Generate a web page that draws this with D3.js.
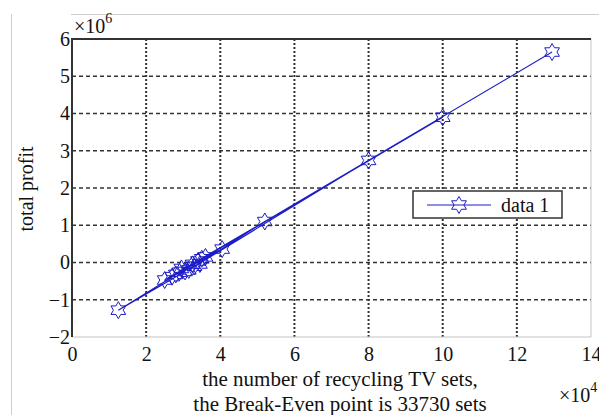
<!DOCTYPE html>
<html><head><meta charset="utf-8">
<script src="https://cdn.jsdelivr.net/npm/d3@7"></script>
<style>
html,body{margin:0;padding:0;background:#fff;}
svg text{font-family:"Liberation Serif","Times New Roman",serif;fill:#111;}
</style></head>
<body><svg id="c" width="599" height="415"></svg>
<script>
// data: number of recycled TV sets vs total profit (plotted in drawing order)
const sets   = [33000, 28000, 30500, 12500, 35000, 27000, 32500, 29500, 34500, 36000, 40500, 25000, 52000, 31500, 80000, 29000, 100000, 34000, 129500];
const profit = [-100000, -320000, -240000, -1280000, 100000, -380000, -50000, -160000, -40000, 150000, 360000, -470000, 1100000, -200000, 2740000, -260000, 3900000, 40000, 5650000];
const xTicks = [0, 20000, 40000, 60000, 80000, 100000, 120000, 140000];
const yTicks = [-2000000, -1000000, 0, 1000000, 2000000, 3000000, 4000000, 5000000, 6000000];
const xLabel1 = "the number of recycling TV sets,";
const xLabel2 = "the Break-Even point is 33730 sets";
const yLabel = "total profit";
const legendLabel = "data 1";

const svg = d3.select("#c");
const L = 72, R = 591, T = 39, B = 337;
const x = d3.scaleLinear().domain([0, 140000]).range([L, R]);
const y = d3.scaleLinear().domain([-2000000, 6000000]).range([B, T]);
const blue = "#1c1cc8";

// outer frame (cropped figure border)
svg.append("line").attr("x1", 11.5).attr("x2", 11.5).attr("y1", 14).attr("y2", 415).attr("stroke", "#cfcfcf");
svg.append("line").attr("x1", 71).attr("x2", 599).attr("y1", 14.5).attr("y2", 14.5).attr("stroke", "#cfcfcf");

// grid
svg.append("g").selectAll("line").data(yTicks.slice(1, -1)).join("line")
  .attr("x1", L).attr("x2", R).attr("y1", d => y(d)).attr("y2", d => y(d))
  .attr("stroke", "#333").attr("stroke-width", 1.6).attr("stroke-dasharray", "4,3");
svg.append("g").selectAll("line").data(xTicks.slice(1, -1)).join("line")
  .attr("x1", d => x(d)).attr("x2", d => x(d)).attr("y1", T).attr("y2", B)
  .attr("stroke", "#333").attr("stroke-width", 2).attr("stroke-dasharray", "2,2");

// box: light right/bottom, dark left/top
svg.append("line").attr("x1", R).attr("x2", R).attr("y1", T).attr("y2", B).attr("stroke", "#c4c4c4");
svg.append("line").attr("x1", L).attr("x2", R).attr("y1", B).attr("y2", B).attr("stroke", "#c4c4c4");
svg.append("line").attr("x1", L).attr("x2", R).attr("y1", T).attr("y2", T).attr("stroke", "#333").attr("stroke-width", 2);
svg.append("line").attr("x1", L).attr("x2", L).attr("y1", T - 1).attr("y2", B).attr("stroke", "#333").attr("stroke-width", 2);

// axes labels via d3 axes
const yAxis = d3.axisLeft(y).tickValues(yTicks).tickSize(0).tickPadding(2)
  .tickFormat(d => d3.format("")(d / 1e6).replace("-", "\u2212"));
const gy = svg.append("g").attr("transform", `translate(${L},0)`).call(yAxis);
gy.select(".domain").remove();
gy.selectAll("text").attr("font-size", 20).attr("fill", "#111");

const xAxis = d3.axisBottom(x).tickValues(xTicks).tickSize(0).tickPadding(10)
  .tickFormat(d => d / 1e4);
const gx = svg.append("g").attr("transform", `translate(0,${B})`).call(xAxis);
gx.select(".domain").remove();
gx.selectAll("text").attr("font-size", 20).attr("fill", "#111");

// multipliers
const m6 = svg.append("text").attr("x", 74).attr("y", 33).attr("font-size", 20);
m6.append("tspan").text("\u00d710");
m6.append("tspan").attr("dy", -10).attr("font-size", 14).text("6");
const m4 = svg.append("text").attr("x", 559).attr("y", 402).attr("font-size", 20);
m4.append("tspan").text("\u00d710");
m4.append("tspan").attr("dy", -10).attr("font-size", 14).text("4");

// axis titles
svg.append("text").attr("x", 340).attr("y", 386).attr("text-anchor", "middle").attr("font-size", 21).text(xLabel1);
svg.append("text").attr("x", 340).attr("y", 411).attr("text-anchor", "middle").attr("font-size", 21).text(xLabel2);
svg.append("text").attr("transform", "translate(33,189) rotate(-90)").attr("text-anchor", "middle").attr("font-size", 20).text(yLabel);

// hexagram marker
function hexagram(cx, cy, Ro) {
  const ri = Ro / Math.sqrt(3);
  const pts = [];
  for (let i = 0; i < 12; i++) {
    const a = -Math.PI / 2 + i * Math.PI / 6;
    const r = i % 2 === 0 ? Ro : ri;
    pts.push([cx + r * Math.cos(a), cy + r * Math.sin(a)]);
  }
  return "M" + pts.map(p => p.join(",")).join("L") + "Z";
}

const pts = sets.map((s, i) => [s, profit[i]]);
const line = d3.line().x(d => x(d[0])).y(d => y(d[1]));
svg.append("path").attr("d", line(pts)).attr("fill", "none").attr("stroke", blue).attr("stroke-width", 1.1);
svg.append("g").selectAll("path").data(pts).join("path")
  .attr("d", d => hexagram(x(d[0]), y(d[1]), 8.5))
  .attr("fill", "none").attr("stroke", blue).attr("stroke-width", 1);

// legend
const lg = svg.append("g");
lg.append("rect").attr("x", 413).attr("y", 191).attr("width", 149).attr("height", 27)
  .attr("fill", "#fff").attr("stroke", "#333").attr("stroke-width", 1.5);
lg.append("line").attr("x1", 427).attr("x2", 491).attr("y1", 205).attr("y2", 205).attr("stroke", blue);
lg.append("path").attr("d", hexagram(459, 205, 8.5)).attr("fill", "none").attr("stroke", blue);
lg.append("text").attr("x", 501).attr("y", 212).attr("font-size", 20).text(legendLabel);
</script></body></html>
